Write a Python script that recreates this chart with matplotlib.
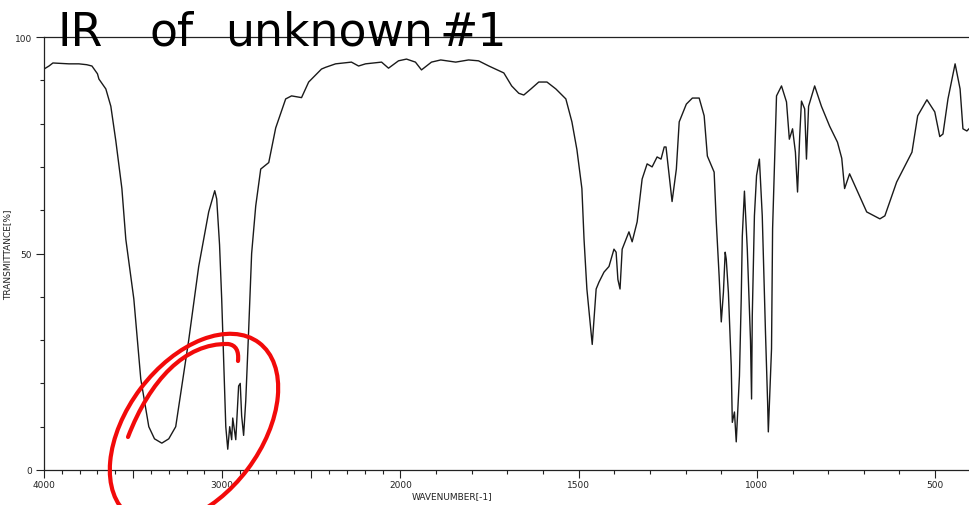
import numpy as np
import matplotlib
matplotlib.use("Agg")
import matplotlib.pyplot as plt
from matplotlib.patches import Ellipse, PathPatch
from matplotlib.path import Path
from matplotlib.transforms import Affine2D
from matplotlib.ticker import FixedLocator, FuncFormatter

# ---- data ----
wavenumber = [
    4000, 3972, 3950, 3900, 3860, 3804, 3760, 3731, 3700, 3692, 3653, 3625, 3597, 3563, 3541,
    3496, 3457, 3412, 3380, 3339, 3300, 3261, 3188, 3132, 3076, 3042, 3031, 3015, 3003, 2980,
    2969, 2958, 2947, 2941, 2924, 2908, 2899, 2891, 2880, 2868, 2852, 2835, 2812, 2784, 2739,
    2700, 2644, 2611, 2555, 2515, 2443, 2420, 2364, 2275, 2235, 2196, 2106, 2067, 2011,
    1983, 1958, 1941, 1913, 1887, 1845, 1809, 1781, 1752, 1710, 1688, 1668, 1654, 1634, 1612,
    1589, 1564, 1536, 1519, 1505, 1491, 1485, 1477, 1468, 1462, 1451, 1443, 1429, 1415, 1401,
    1395, 1390, 1384, 1378, 1359, 1350, 1336, 1322, 1308, 1294, 1280, 1269, 1260, 1255, 1246,
    1238, 1226, 1218, 1198, 1181, 1162, 1148, 1139, 1120, 1114, 1106, 1100, 1094, 1089, 1086,
    1080, 1072, 1069, 1063, 1058, 1049, 1044, 1041, 1035, 1027, 1018, 1015, 1013, 1007, 1001,
    993, 985, 976, 970, 968, 959, 956, 951, 945, 931, 917, 909, 900, 892, 886,
    880, 875, 866, 861, 855, 838, 819, 796, 774, 762, 754, 740, 712, 692, 655,
    641, 608, 565, 549, 523, 501, 487, 478, 464, 444, 430, 422, 411, 405,
]
transmittance = [
    92.6, 93.3, 94.0, 93.9, 93.8, 93.8, 93.6, 93.3, 91.5, 90.3, 88.0, 84.0, 76.0, 65.0, 53.3,
    39.5, 21.0, 10.0, 7.2, 6.2, 7.2, 10.0, 30.0, 47.0, 59.6, 64.5, 62.6, 52.0, 39.5, 10.0,
    4.8, 10.0, 7.0, 12.0, 7.0, 19.4, 20.0, 12.5, 8.0, 16.0, 32.0, 50.0, 61.0, 69.5, 71.0,
    79.0, 85.7, 86.4, 86.0, 89.6, 92.6, 93.0, 93.8, 94.2, 93.3, 93.8, 94.2, 92.8, 94.5,
    94.9, 94.2, 92.4, 94.2, 94.7, 94.2, 94.7, 94.5, 93.3, 91.7, 88.7, 87.0, 86.6, 88.0, 89.6,
    89.6, 88.0, 85.7, 80.4, 74.0, 65.0, 53.3, 41.8, 34.0, 29.0, 41.8, 43.4, 45.7, 47.0, 51.0,
    50.3, 44.0, 41.8, 51.0, 55.0, 52.7, 57.3, 67.2, 70.7, 70.0, 72.3, 71.8, 74.6, 74.6, 67.9,
    62.0, 69.5, 80.4, 84.5, 85.9, 85.9, 81.8, 72.5, 68.8, 57.3, 44.8, 34.2, 41.0, 50.3, 48.7,
    41.0, 24.0, 11.0, 13.4, 6.5, 21.7, 39.5, 54.0, 64.4, 51.0, 30.0, 16.4, 35.6, 58.7, 68.0,
    71.8, 58.7, 31.9, 15.7, 8.8, 28.0, 55.7, 69.5, 86.4, 88.7, 85.0, 76.4, 78.8, 73.4, 64.2,
    77.0, 85.2, 83.4, 71.8, 84.0, 88.7, 84.0, 79.4, 75.7, 72.0, 65.0, 68.4, 63.3, 59.6, 58.0,
    58.7, 66.5, 73.4, 81.8, 85.5, 82.7, 77.0, 77.6, 85.7, 93.8, 88.0, 78.8, 78.3, 78.8,
]
x_major = [4000, 3500, 3000, 2500, 2000, 1500, 1000, 500]
x_labels = {4000: "4000", 3000: "3000", 2000: "2000", 1500: "1500", 1000: "1000", 500: "500"}
x_minor = [w for w in range(500, 4000, 100) if w not in x_major]
y_major = [0, 50, 100]
y_minor = [10, 20, 30, 40, 60, 70, 80, 90]
title_words = ["IR", "of", "unknown", "#1"]


def fwd(w):
    w = np.asarray(w, dtype=float)
    return np.where(w > 2000, w / 2.0 + 1000.0, w)


def inv(u):
    u = np.asarray(u, dtype=float)
    return np.where(u > 2000, (u - 1000.0) * 2.0, u)


W, H = 969, 506
fig = plt.figure(figsize=(W / 100, H / 100), dpi=100)
ax = fig.add_axes([44 / W, (H - 471) / H, (W - 44) / W, (471 - 38) / H])
ax.set_xscale("function", functions=(fwd, inv))
ax.plot(wavenumber, transmittance, color="#1a1a1a", lw=1.0)
ax.set_xlim(4000, 405)
ax.set_ylim(0, 100)

ax.xaxis.set_major_locator(FixedLocator(x_major))
ax.xaxis.set_minor_locator(FixedLocator(x_minor))
ax.xaxis.set_major_formatter(FuncFormatter(lambda v, p: x_labels.get(int(round(v)), "")))
ax.xaxis.set_minor_formatter(FuncFormatter(lambda v, p: ""))
ax.yaxis.set_major_locator(FixedLocator(y_major))
ax.yaxis.set_minor_locator(FixedLocator(y_minor))

for s in ["left", "bottom", "top"]:
    ax.spines[s].set_color("#222222")
    ax.spines[s].set_linewidth(0.9)
ax.spines["right"].set_visible(False)
ax.tick_params(axis="both", which="major", direction="out", length=5.5, width=0.8,
               color="#222222", labelsize=6.5, labelcolor="#222222")
ax.tick_params(axis="both", which="minor", direction="out", length=3, width=0.8,
               color="#222222")
ax.tick_params(axis="x", which="major", pad=2)
ax.tick_params(axis="y", which="major", pad=3)

ax.set_xlabel("WAVENUMBER[-1]", fontsize=6.5, color="#222222")
ax.xaxis.set_label_coords((452 - 44) / (W - 44), (471 - 492) / 433)
ax.set_ylabel("TRANSMITTANCE[%]", fontsize=6.5, color="#222222")
ax.yaxis.set_label_coords((12 - 44) / (W - 44), 0.5)

# handwritten-style title words
centers = [80, 172, 329, 473]
for word, cx in zip(title_words, centers):
    fig.text(cx / W, (H - 46) / H, word, fontsize=33, ha="center", va="baseline",
             color="black")

# red hand-drawn annotation (figure pixel coordinates, y up)
pix = Affine2D().scale(1 / fig.dpi) + fig.dpi_scale_trans
ell = Ellipse((194, H - 430), 216, 134, angle=53, fill=False, edgecolor="#f20a0a",
              lw=3.0, transform=pix, clip_on=False, zorder=10)
fig.add_artist(ell)
verts = [(128, H - 438), (150, H - 381), (185, H - 344), (228, H - 345),
         (236, H - 346), (239, H - 352), (238, H - 362)]
codes = [Path.MOVETO, Path.CURVE4, Path.CURVE4, Path.CURVE4,
         Path.CURVE4, Path.CURVE4, Path.CURVE4]
stroke = PathPatch(Path(verts, codes), fill=False, edgecolor="#f20a0a", lw=3.0,
                   capstyle="round", transform=pix, clip_on=False, zorder=10)
fig.add_artist(stroke)

fig.savefig("out.png", dpi=100)
